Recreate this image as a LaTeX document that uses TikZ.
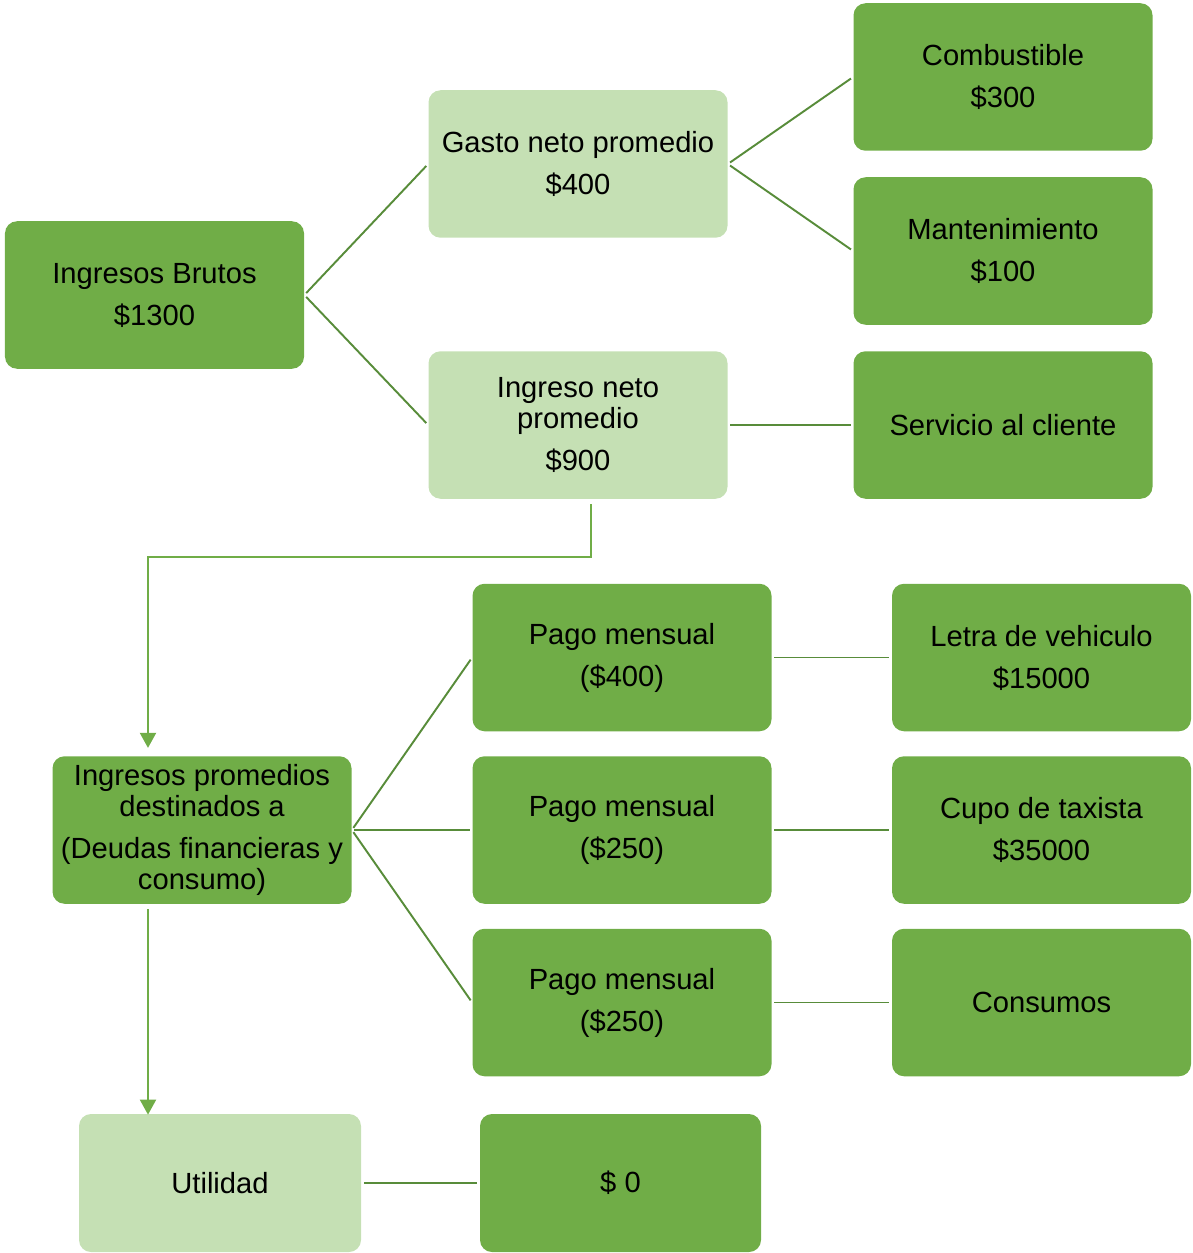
\documentclass[tikz,border=0pt]{standalone}
\usepackage{fontspec}
\setmainfont{Liberation Sans}
\usetikzlibrary{arrows.meta}
\definecolor{leafgreen}{RGB}{112,173,71}
\definecolor{palegreen}{RGB}{197,224,180}
\definecolor{linegreen}{RGB}{88,140,58}
\tikzstyle{darkbox} = [rectangle, rounded corners=0.24cm, minimum width=5.98cm, minimum height=2.95cm, align=center, fill=leafgreen, font=\fontsize{16.6}{17.6}\selectfont]
\tikzstyle{lightbox} = [rectangle, rounded corners=0.24cm, minimum width=5.98cm, minimum height=2.95cm, align=center, fill=palegreen, font=\fontsize{16.6}{17.6}\selectfont]
\tikzstyle{branch} = [linegreen, line width=1.1pt, shorten <=1.5pt, shorten >=1.5pt]
\tikzstyle{arrow} = [leafgreen, line width=1.1pt, -{Triangle[width=0.32cm,length=0.3cm]}]

\begin{document}
\begin{tikzpicture}[node distance=8.5cm]
\useasboundingbox (0,0) rectangle (23.84,-25.06);

\node (ingresosBrutos) [darkbox] at (3.09,-5.90) {Ingresos Brutos\\[6.3pt]\$1300};
\node (gastoNeto) [lightbox, right of=ingresosBrutos, xshift=-0.03cm, yshift=2.62cm] {Gasto neto promedio\\[6.3pt]\$400};
\node (ingresoNeto) [lightbox, right of=ingresosBrutos, xshift=-0.03cm, yshift=-2.60cm] {Ingreso neto\\promedio\\[6.3pt]\$900};
\node (combustible) [darkbox, right of=gastoNeto, yshift=1.74cm] {Combustible\\[6.3pt]\$300};
\node (mantenimiento) [darkbox, right of=gastoNeto, yshift=-1.74cm] {Mantenimiento\\[6.3pt]\$100};
\node (servicio) [darkbox, right of=ingresoNeto] {Servicio al cliente};
\node (ingresosPromedios) [darkbox, below of=ingresoNeto, xshift=-7.52cm, yshift=0.40cm] {Ingresos promedios\\destinados a\\[6.3pt](Deudas financieras y\\consumo)};
\node (pagoDos) [darkbox, right of=ingresosPromedios, xshift=-0.10cm] {Pago mensual\\[6.3pt](\$250)};
\node (pagoUno) [darkbox, above of=pagoDos, node distance=3.45cm] {Pago mensual\\[6.3pt](\$400)};
\node (pagoTres) [darkbox, below of=pagoDos, node distance=3.45cm] {Pago mensual\\[6.3pt](\$250)};
\node (letra) [darkbox, right of=pagoUno, xshift=-0.11cm] {Letra de vehiculo\\[6.3pt]\$15000};
\node (cupo) [darkbox, right of=pagoDos, xshift=-0.11cm] {Cupo de taxista\\[6.3pt]\$35000};
\node (consumos) [darkbox, right of=pagoTres, xshift=-0.11cm] {Consumos};
\node (utilidad) [lightbox, minimum width=5.64cm, minimum height=2.76cm, below of=ingresosPromedios, node distance=7.06cm, xshift=0.36cm] {Utilidad};
\node (saldo) [darkbox, minimum width=5.62cm, minimum height=2.76cm, right of=utilidad, xshift=-0.49cm] {\$ 0};

\draw [branch] (ingresosBrutos.east) -- (gastoNeto.west);
\draw [branch] (ingresosBrutos.east) -- (ingresoNeto.west);
\draw [branch] (gastoNeto.east) -- (combustible.west);
\draw [branch] (gastoNeto.east) -- (mantenimiento.west);
\draw [branch] (ingresoNeto.east) -- (servicio.west);
\draw [branch] (ingresosPromedios.east) -- (pagoUno.west);
\draw [branch] (ingresosPromedios.east) -- (pagoDos.west);
\draw [branch] (ingresosPromedios.east) -- (pagoTres.west);
\draw [branch] (pagoUno.east) -- (letra.west);
\draw [branch] (pagoDos.east) -- (cupo.west);
\draw [branch] (pagoTres.east) -- (consumos.west);
\draw [branch] (utilidad.east) -- (saldo.west);
\draw [arrow] ([xshift=0.26cm, yshift=-0.1cm]ingresoNeto.south) -- ++(0,-1.06) -| ([xshift=-1.08cm, yshift=0.16cm]ingresosPromedios.north);
\draw [arrow] ([xshift=-1.08cm, yshift=-0.1cm]ingresosPromedios.south) -- ([xshift=-1.44cm, yshift=-0.02cm]utilidad.north);

\end{tikzpicture}
\end{document}
